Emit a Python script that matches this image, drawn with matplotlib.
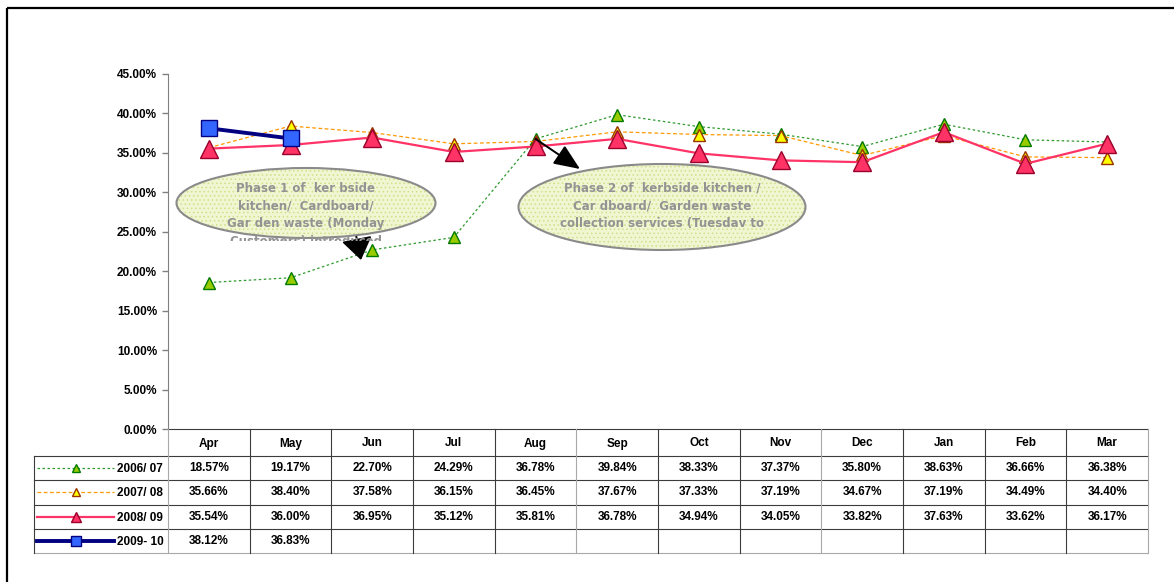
"""Kerbside recycling rate by month, with the data table under the chart."""

import matplotlib

matplotlib.use("Agg")
import matplotlib.pyplot as plt
from matplotlib.patches import Ellipse
from matplotlib.transforms import Bbox
from matplotlib.ticker import FuncFormatter, MultipleLocator

months = ["Apr", "May", "Jun", "Jul", "Aug", "Sep",
          "Oct", "Nov", "Dec", "Jan", "Feb", "Mar"]
series_names = ["2006/ 07", "2007/ 08", "2008/ 09", "2009- 10"]
rate_0607 = [18.57, 19.17, 22.70, 24.29, 36.78, 39.84,
             38.33, 37.37, 35.80, 38.63, 36.66, 36.38]
rate_0708 = [35.66, 38.40, 37.58, 36.15, 36.45, 37.67,
             37.33, 37.19, 34.67, 37.19, 34.49, 34.40]
rate_0809 = [35.54, 36.00, 36.95, 35.12, 35.81, 36.78,
             34.94, 34.05, 33.82, 37.63, 33.62, 36.17]
rate_0910 = [38.12, 36.83]
phase1_note = ["Phase 1 of  ker bside", "kitchen/  Cardboard/",
               "Gar den waste (Monday", "Customers) introduced"]
phase2_note = ["Phase 2 of  kerbside kitchen /", "Car dboard/  Garden waste",
               "collection services (Tuesdav to"]

NARROW = ["Liberation Sans", "DejaVu Sans"]
FS = 8.5

styles = [
    dict(color="#2e9a2e", lw=0.9, ls=(0, (2, 2)), marker="^", ms=9,
         mfc="#99cc00", mec="#007a00", mew=1.0),
    dict(color="#ff9900", lw=0.9, ls=(0, (3, 2)), marker="^", ms=8.5,
         mfc="#ffff00", mec="#993300", mew=1.0),
    dict(color="#ff3366", lw=1.6, ls="-", marker="^", ms=12.5,
         mfc="#ff3366", mec="#99002b", mew=1.0),
    dict(color="#000080", lw=2.8, ls="-", marker="s", ms=12,
         mfc="#3366ff", mec="#000080", mew=1.0),
]

W, H = 1174, 582
PLOT_L, PLOT_R, PLOT_T, PLOT_B = 168, 1148, 74, 429
LEG_L = 34
HEAD_B = 456
ROW_H = 24.25
COL_W = (PLOT_R - PLOT_L) / len(months)

fig = plt.figure(figsize=(W / 100, H / 100), dpi=100)
ax = fig.add_axes([PLOT_L / W, 1 - PLOT_B / H,
                   (PLOT_R - PLOT_L) / W, (PLOT_B - PLOT_T) / H])
ax.set_facecolor("none")

xs = list(range(len(months)))
all_series = [rate_0607, rate_0708, rate_0809, rate_0910]
for vals, st in zip(all_series, styles):
    ax.plot(xs[:len(vals)], vals, color=st["color"], lw=st["lw"], ls=st["ls"],
            marker=st["marker"], ms=st["ms"], mfc=st["mfc"], mec=st["mec"],
            mew=st["mew"], clip_on=False)

ax.set_xlim(-0.5, len(months) - 0.5)
ax.set_ylim(0, 45)
ax.yaxis.set_major_locator(MultipleLocator(5))
ax.yaxis.set_major_formatter(FuncFormatter(lambda v, _: f"{v:.2f}%"))
ax.set_xticks([])
for side in ("top", "right", "bottom"):
    ax.spines[side].set_visible(False)
ax.spines["left"].set_color("#808080")
ax.tick_params(axis="y", length=4, width=1, color="#808080", pad=4)
for lab in ax.get_yticklabels():
    lab.set_family(NARROW)
    lab.set_fontweight("bold")
    lab.set_fontsize(FS)

# overlay in pixel coordinates for the table, frame and call-outs
cv = fig.add_axes([0, 0, 1, 1])
cv.set_xlim(0, W)
cv.set_ylim(H, 0)
cv.axis("off")

cv.plot([7, 7], [8, H], color="black", lw=1.6, solid_capstyle="butt")
cv.plot([7, W], [8, 8], color="black", lw=1.6, solid_capstyle="butt")

n_rows = len(all_series)
tbl_bot = HEAD_B + ROW_H * n_rows
dark, light = "#3c3c3c", "#a8a8a8"
cv.plot([PLOT_L, PLOT_R], [PLOT_B, PLOT_B], color=dark, lw=0.8)
for r in range(n_rows + 1):
    y = HEAD_B + ROW_H * r
    cv.plot([LEG_L, PLOT_R], [y, y], color=light if r == n_rows else dark, lw=0.8)
cv.plot([LEG_L, LEG_L], [HEAD_B, tbl_bot], color=dark, lw=0.8)
for k in range(len(months) + 1):
    x = PLOT_L + k * COL_W
    col = light if k in (0, 5, 8, 12) else dark
    cv.plot([x, x], [PLOT_B, tbl_bot], color=col, lw=0.8)

txt = dict(family=NARROW, fontweight="bold", fontsize=FS,
           ha="center", va="center", color="black")
for i, m in enumerate(months):
    cv.text(PLOT_L + (i + 0.5) * COL_W, (PLOT_B + HEAD_B) / 2 + 1, m, **txt)
for r, (vals, st, name) in enumerate(zip(all_series, styles, series_names)):
    yc = HEAD_B + ROW_H * (r + 0.5)
    for i, v in enumerate(vals):
        cv.text(PLOT_L + (i + 0.5) * COL_W, yc, f"{v:.2f}%", **txt)
    cv.plot([37, 114], [yc, yc], color=st["color"], lw=st["lw"], ls=st["ls"])
    cv.plot([75.5], [yc], marker=st["marker"], ms=st["ms"] * 0.6, mfc=st["mfc"],
            mec=st["mec"], mew=st["mew"], ls="none")
    cv.text(117, yc + 1, name, family=NARROW, fontweight="bold", fontsize=FS,
            ha="left", va="center")

# call-outs
arrow1 = dict(arrowstyle="-|>,head_width=0.6,head_length=0.85", color="black",
              lw=1.4, mutation_scale=16, shrinkA=0, shrinkB=0)
arrow2 = dict(arrowstyle="-|>,head_width=0.42,head_length=1.0", color="black",
              lw=1.4, mutation_scale=16, shrinkA=0, shrinkB=0)
cv.annotate("", xy=(361, 260), xytext=(352, 215), arrowprops=arrow1, zorder=2)
cv.annotate("", xy=(580, 169), xytext=(4, rate_0607[4]), textcoords=ax.transData,
            arrowprops=arrow2, zorder=2)

note_txt = dict(family="DejaVu Sans", fontsize=8.5, fontweight="bold",
                color="#939393", ha="center", va="center", zorder=5)
plt.rcParams["hatch.linewidth"] = 0.6
for (cx, cy, w, h), lines, clip_y in (((306, 203, 259, 70), phase1_note, 241),
                                      ((662, 207, 287, 86), phase2_note, 236)):
    cv.add_patch(Ellipse((cx, cy), w, h, facecolor="#f1f6d2", edgecolor="#cfe08a",
                         hatch="....", lw=0, zorder=3))
    cv.add_patch(Ellipse((cx, cy), w, h, facecolor="none", edgecolor="#8a8a8a",
                         lw=1.5, zorder=4))
    # text box of the call-out cuts the last line (display pixels, origin bottom)
    clip = Bbox.from_extents(cx - w / 2, H - clip_y, cx + w / 2, H)
    for j, line in enumerate(lines):
        t = cv.text(cx, 188 + 17.7 * j, line, **note_txt)
        t.set_clip_box(clip)
        t.set_clip_on(True)

fig.savefig("out.png", dpi=100)
plt.close(fig)
